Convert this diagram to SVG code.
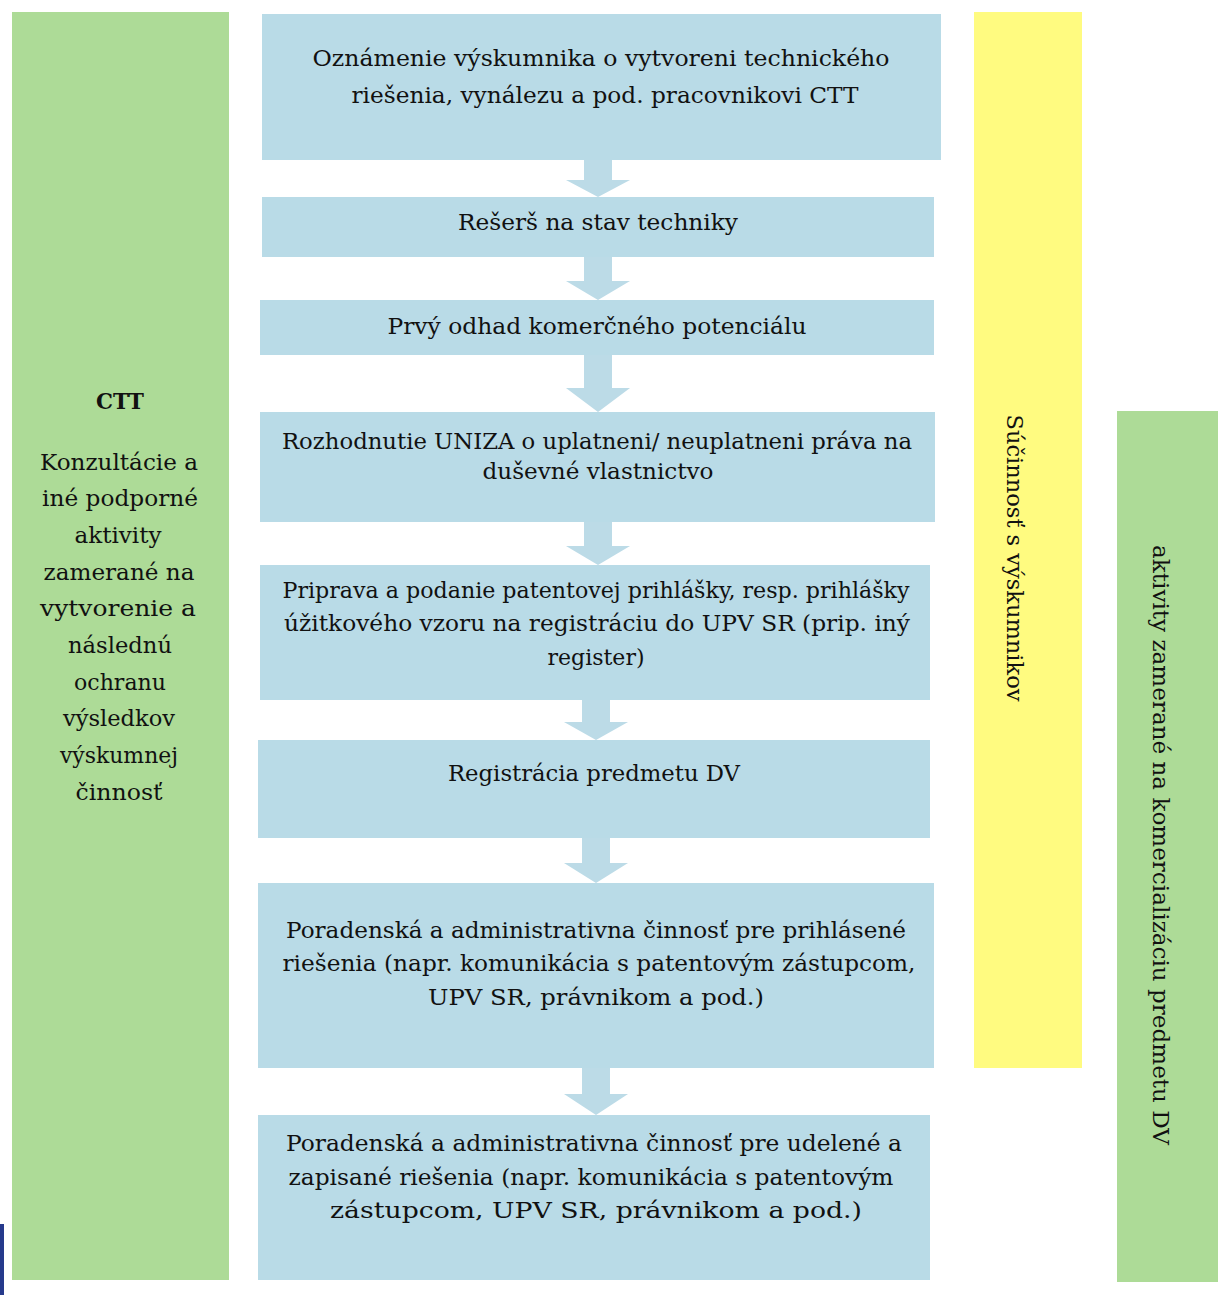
<svg xmlns="http://www.w3.org/2000/svg" width="1220" height="1295" viewBox="0 0 1220 1295">
<style>
.box{fill:#b9dbe7;}
.green{fill:#addb97;}
.yellow{fill:#fffb80;}
.arrow{fill:#bcdbe7;}
text{font-family:"DejaVu Serif","Liberation Serif",serif;font-size:23px;fill:#111111;text-anchor:middle;}
.b{font-weight:bold;}
</style>
<rect x="0" y="0" width="1220" height="1295" fill="#ffffff"/>
<rect x="0" y="1224" width="4" height="71" fill="#263a8c"/>

<g id="left-column">
<rect class="green" x="12" y="12" width="217" height="1268"/>
<text class="b" x="120" y="409" textLength="48" lengthAdjust="spacingAndGlyphs">CTT</text>
<text x="119" y="470" textLength="158" lengthAdjust="spacingAndGlyphs">Konzultácie a</text>
<text x="120" y="506" textLength="156" lengthAdjust="spacingAndGlyphs">iné podporné</text>
<text x="118" y="543" textLength="87" lengthAdjust="spacingAndGlyphs">aktivity</text>
<text x="119" y="580" textLength="151" lengthAdjust="spacingAndGlyphs">zamerané na</text>
<text x="118" y="616" textLength="156" lengthAdjust="spacingAndGlyphs">vytvorenie a</text>
<text x="120" y="653" textLength="104" lengthAdjust="spacingAndGlyphs">následnú</text>
<text x="120" y="690" textLength="92" lengthAdjust="spacingAndGlyphs">ochranu</text>
<text x="119" y="726" textLength="112" lengthAdjust="spacingAndGlyphs">výsledkov</text>
<text x="119" y="763" textLength="118" lengthAdjust="spacingAndGlyphs">výskumnej</text>
<text x="119" y="800" textLength="87" lengthAdjust="spacingAndGlyphs">činnosť</text>
</g>

<g id="yellow-column">
<rect class="yellow" x="974" y="12" width="108" height="1056"/>
<text transform="translate(1007,558) rotate(90)" textLength="287" lengthAdjust="spacingAndGlyphs">Súčinnosť s výskumnikov</text>
</g>

<g id="right-column">
<rect class="green" x="1117" y="411" width="101" height="871"/>
<text transform="translate(1153,845) rotate(90)" textLength="600" lengthAdjust="spacingAndGlyphs">aktivity zamerané na komercializáciu predmetu DV</text>
</g>

<g id="connectors">
<path class="arrow" d="M584,158 L612,158 L612,180 L630,180 L598,197 L566,180 L584,180 Z"/>
<path class="arrow" d="M584,255 L612,255 L612,281 L630,281 L598,300 L566,281 L584,281 Z"/>
<path class="arrow" d="M584,353 L612,353 L612,388 L630,388 L598,412 L566,388 L584,388 Z"/>
<path class="arrow" d="M584,520 L612,520 L612,546 L630,546 L598,565 L566,546 L584,546 Z"/>
<path class="arrow" d="M582,698 L610,698 L610,722 L628,722 L596,740 L564,722 L582,722 Z"/>
<path class="arrow" d="M582,836 L610,836 L610,863 L628,863 L596,883 L564,863 L582,863 Z"/>
<path class="arrow" d="M582,1066 L610,1066 L610,1094 L628,1094 L596,1115 L564,1094 L582,1094 Z"/>
</g>

<g id="step1">
<rect class="box" x="262" y="14" width="679" height="146"/>
<text x="601" y="66" textLength="577" lengthAdjust="spacingAndGlyphs">Oznámenie výskumnika o vytvoreni technického</text>
<text x="605" y="103" textLength="507" lengthAdjust="spacingAndGlyphs">riešenia, vynálezu a pod. pracovnikovi CTT</text>
</g>

<g id="step2">
<rect class="box" x="262" y="197" width="672" height="60"/>
<text x="598" y="230" textLength="280" lengthAdjust="spacingAndGlyphs">Rešerš na stav techniky</text>
</g>

<g id="step3">
<rect class="box" x="260" y="300" width="674" height="55"/>
<text x="597" y="334" textLength="419" lengthAdjust="spacingAndGlyphs">Prvý odhad komerčného potenciálu</text>
</g>

<g id="step4">
<rect class="box" x="260" y="412" width="675" height="110"/>
<text x="597" y="449" textLength="630" lengthAdjust="spacingAndGlyphs">Rozhodnutie UNIZA o uplatneni/ neuplatneni práva na</text>
<text x="598" y="479" textLength="231" lengthAdjust="spacingAndGlyphs">duševné vlastnictvo</text>
</g>

<g id="step5">
<rect class="box" x="260" y="565" width="670" height="135"/>
<text x="596" y="598" textLength="627" lengthAdjust="spacingAndGlyphs">Priprava a podanie patentovej prihlášky, resp. prihlášky</text>
<text x="597" y="631" textLength="626" lengthAdjust="spacingAndGlyphs">úžitkového vzoru na registráciu do UPV SR (prip. iný</text>
<text x="596" y="665" textLength="97" lengthAdjust="spacingAndGlyphs">register)</text>
</g>

<g id="step6">
<rect class="box" x="258" y="740" width="672" height="98"/>
<text x="594" y="781" textLength="292" lengthAdjust="spacingAndGlyphs">Registrácia predmetu DV</text>
</g>

<g id="step7">
<rect class="box" x="258" y="883" width="676" height="185"/>
<text x="596" y="938" textLength="620" lengthAdjust="spacingAndGlyphs">Poradenská a administrativna činnosť pre prihlásené</text>
<text x="599" y="971" textLength="633" lengthAdjust="spacingAndGlyphs">riešenia (napr. komunikácia s patentovým zástupcom,</text>
<text x="596" y="1005" textLength="336" lengthAdjust="spacingAndGlyphs">UPV SR, právnikom a pod.)</text>
</g>

<g id="step8">
<rect class="box" x="258" y="1115" width="672" height="165"/>
<text x="594" y="1151" textLength="616" lengthAdjust="spacingAndGlyphs">Poradenská a administrativna činnosť pre udelené a</text>
<text x="591" y="1185" textLength="605" lengthAdjust="spacingAndGlyphs">zapisané riešenia (napr. komunikácia s patentovým</text>
<text x="596" y="1218" textLength="532" lengthAdjust="spacingAndGlyphs">zástupcom, UPV SR, právnikom a pod.)</text>
</g>
</svg>
